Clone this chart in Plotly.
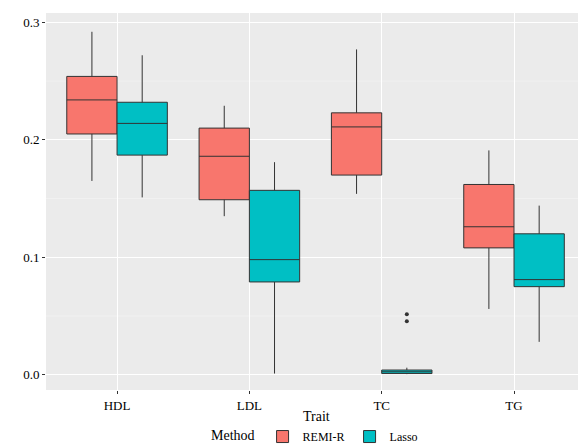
import plotly.graph_objects as go

traits = ["HDL", "LDL", "TC", "TG"]
remi_low = [0.165, 0.135, 0.154, 0.056]
remi_q1 = [0.205, 0.149, 0.170, 0.108]
remi_med = [0.234, 0.186, 0.211, 0.126]
remi_q3 = [0.254, 0.210, 0.223, 0.162]
remi_up = [0.292, 0.229, 0.277, 0.191]
lasso_low = [0.151, 0.001, 0.0005, 0.028]
lasso_q1 = [0.187, 0.079, 0.001, 0.075]
lasso_med = [0.214, 0.098, 0.0025, 0.081]
lasso_q3 = [0.232, 0.157, 0.004, 0.120]
lasso_up = [0.272, 0.181, 0.006, 0.144]
out_x = ["TC", "TC"]
out_y = [0.0514, 0.0456]

pos = {t: i + 1 for i, t in enumerate(traits)}
off = 0.19
fig = go.Figure()
for name, col, sgn, lo, q1, md, q3, up in [
    ("REMI-R", "#F8766D", -1, remi_low, remi_q1, remi_med, remi_q3, remi_up),
    ("Lasso", "#00BFC4", 1, lasso_low, lasso_q1, lasso_med, lasso_q3, lasso_up)]:
    fig.add_trace(go.Box(
        name=name, x=[pos[t] + sgn * off for t in traits],
        q1=q1, median=md, q3=q3, lowerfence=lo, upperfence=up,
        width=0.38, fillcolor=col, line=dict(color="#333333", width=1),
        whiskerwidth=0, boxpoints=False, showlegend=True))
fig.add_trace(go.Scatter(x=[pos[t] + off for t in out_x], y=out_y, mode="markers",
                         marker=dict(color="#333333", size=4), showlegend=False))
fig.update_layout(
    width=586, height=446, template=None,
    font=dict(family="Liberation Serif", size=14, color="#000000"),
    paper_bgcolor="white", plot_bgcolor="#EBEBEB",
    margin=dict(l=38, r=8, t=5, b=64, autoexpand=False),
    legend=dict(orientation="h", x=0.5, xanchor="center", y=-0.085, yanchor="top",
                title=dict(text="Method"), font=dict(size=12), itemwidth=30,
                tracegroupgap=0, itemclick=False),
    xaxis=dict(range=[0.463, 4.544], tickvals=[1, 2, 3, 4], ticktext=traits,
               showgrid=True, gridcolor="white", gridwidth=1.2, zeroline=False,
               ticks="outside", ticklen=3, tickcolor="#333333", automargin=False,
               tickfont=dict(size=13)),
    yaxis=dict(range=[-0.013, 0.308], tickvals=[0, 0.1, 0.2, 0.3],
               ticktext=["0.0", "0.1", "0.2", "0.3"], showgrid=True, gridcolor="white",
               gridwidth=1.2, zeroline=False, ticks="outside", ticklen=3,
               tickcolor="#333333", automargin=False, tickfont=dict(size=13)),
    annotations=[dict(text="Trait", x=0.5, xref="paper", y=-0.045, yref="paper",
                      yanchor="top", showarrow=False, font=dict(size=14))],
)
for v in [0.05, 0.15, 0.25]:
    fig.add_hline(y=v, line=dict(color="#F5F5F5", width=0.6), layer="below")
fig.write_html("out.html")
